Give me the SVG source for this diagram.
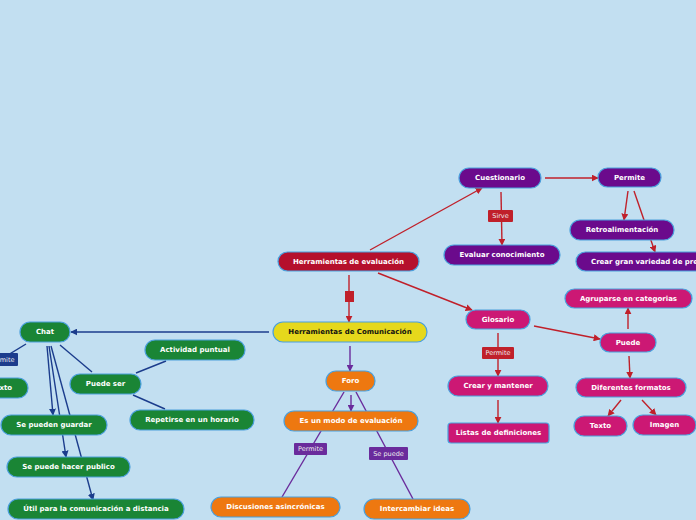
<svg xmlns="http://www.w3.org/2000/svg" width="696" height="520" viewBox="0 0 696 520">
<defs>
<style>
.n rect{stroke:#4a9fdc;stroke-width:1.2}
.n text{font-family:"DejaVu Sans",Verdana,sans-serif;font-weight:bold;font-size:7px;fill:#fff;text-anchor:middle;dominant-baseline:central}
.red rect{fill:#b5102c}.yel rect{fill:#e6d81c}.yel text{fill:#111}
.grn rect{fill:#1a8535}.pur rect{fill:#6b0a8c}.mag rect{fill:#cc1874}.org rect{fill:#ee7810}
.l text{font-family:"DejaVu Sans",Verdana,sans-serif;font-size:6.5px;fill:#eee;text-anchor:middle;dominant-baseline:central}
.cr{stroke:#c0202a;stroke-width:1.4;fill:none}
.cb{stroke:#1b3c8c;stroke-width:1.4;fill:none}
.cp{stroke:#6a2b9c;stroke-width:1.4;fill:none}
</style>
<marker id="ar" viewBox="0 0 10 10" refX="9" refY="5" markerWidth="7" markerHeight="7" orient="auto" markerUnits="userSpaceOnUse"><path d="M0,0L10,5L0,10z" fill="#c0202a"/></marker>
<marker id="ab" viewBox="0 0 10 10" refX="9" refY="5" markerWidth="7" markerHeight="7" orient="auto" markerUnits="userSpaceOnUse"><path d="M0,0L10,5L0,10z" fill="#1b3c8c"/></marker>
<marker id="ap" viewBox="0 0 10 10" refX="9" refY="5" markerWidth="7" markerHeight="7" orient="auto" markerUnits="userSpaceOnUse"><path d="M0,0L10,5L0,10z" fill="#6a2b9c"/></marker>
</defs>
<rect width="696" height="520" fill="#c2dff1"/>
<g id="connectors">
<path class="cr" d="M370,250L482,188" marker-end="url(#ar)"/>
<path class="cr" d="M378,273L472,310" marker-end="url(#ar)"/>
<path class="cr" d="M349,275L349,322" marker-end="url(#ar)"/>
<rect x="345" y="291" width="9" height="11" fill="#c0202a"/>
<path class="cr" d="M545,178L598,178" marker-end="url(#ar)"/>
<path class="cr" d="M501,192L502,245" marker-end="url(#ar)"/>
<path class="cr" d="M628,191L624,220" marker-end="url(#ar)"/>
<path class="cr" d="M634,191L655,252" marker-end="url(#ar)"/>
<path class="cr" d="M498,333L498,376" marker-end="url(#ar)"/>
<path class="cr" d="M498,400L498,423" marker-end="url(#ar)"/>
<path class="cr" d="M534,326L600,339" marker-end="url(#ar)"/>
<path class="cr" d="M628,329L628,308" marker-end="url(#ar)"/>
<path class="cr" d="M629,356L630,378" marker-end="url(#ar)"/>
<path class="cr" d="M621,400L608,416" marker-end="url(#ar)"/>
<path class="cr" d="M642,400L656,415" marker-end="url(#ar)"/>
<path class="cb" d="M269,332L71,332" marker-end="url(#ab)"/>
<path class="cb" d="M26,344L-10,366"/>
<path class="cb" d="M60,345L92,372"/>
<path class="cb" d="M136,373L166,361"/>
<path class="cb" d="M133,395L165,409"/>
<path class="cb" d="M47,346L53,415" marker-end="url(#ab)"/>
<path class="cb" d="M49,346L66,457" marker-end="url(#ab)"/>
<path class="cb" d="M51,346L93,500" marker-end="url(#ab)"/>
<path class="cp" d="M350,346L350,371" marker-end="url(#ap)"/>
<path class="cp" d="M351,395L351,411" marker-end="url(#ap)"/>
<path class="cp" d="M344,392L282,497"/>
<path class="cp" d="M356,392L413,499"/>
</g>
<g id="lbl-sirve" class="l"><rect x="488" y="210" width="25" height="12" rx="1" fill="#c0202a"/><text x="500.5" y="216">Sirve</text></g>
<g id="lbl-permite-g" class="l"><rect x="482" y="347" width="32" height="12" rx="1" fill="#c0202a"/><text x="498" y="353">Permite</text></g>
<g id="lbl-permite-f" class="l"><rect x="294" y="443" width="33" height="12" rx="1" fill="#6a2b9c"/><text x="310.5" y="449">Permite</text></g>
<g id="lbl-sepuede" class="l"><rect x="369" y="447" width="39" height="13" rx="1" fill="#6a2b9c"/><text x="388.5" y="453.5">Se puede</text></g>
<g id="lbl-permite-c" class="l"><rect x="-14" y="353" width="32" height="13" rx="1" fill="#1b3c8c"/><text x="2" y="359.5">Permite</text></g>
<g id="herr-eval" class="n red"><rect x="278" y="252" width="141" height="19" rx="9.5"/><text x="348.5" y="261.5">Herramientas de evaluación</text></g>
<g id="herr-com" class="n yel"><rect x="273" y="322" width="154" height="20" rx="10"/><text x="350" y="332">Herramientas de Comunicación</text></g>
<g id="cuestionario" class="n pur"><rect x="459" y="168" width="82" height="20" rx="10"/><text x="500" y="178">Cuestionario</text></g>
<g id="permite" class="n pur"><rect x="598" y="168" width="63" height="19" rx="9.5"/><text x="629.5" y="177.5">Permite</text></g>
<g id="retro" class="n pur"><rect x="570" y="220" width="104" height="20" rx="10"/><text x="622" y="230">Retroalimentación</text></g>
<g id="crear-gran" class="n pur"><rect x="576" y="252" width="140" height="19" rx="9.5"/><text x="591" y="261.5" style="text-anchor:start">Crear gran variedad de preguntas</text></g>
<g id="evaluar" class="n pur"><rect x="444" y="245" width="116" height="20" rx="10"/><text x="502" y="255">Evaluar conocimiento</text></g>
<g id="glosario" class="n mag"><rect x="466" y="310" width="64" height="19" rx="9.5"/><text x="498" y="319.5">Glosario</text></g>
<g id="crear-mant" class="n mag"><rect x="448" y="376" width="100" height="20" rx="10"/><text x="498" y="386">Crear y mantener</text></g>
<g id="listas" class="n mag"><rect x="448" y="423" width="101" height="20" rx="3"/><text x="498.5" y="433">Listas de definiciones</text></g>
<g id="agruparse" class="n mag"><rect x="565" y="289" width="127" height="19" rx="9.5"/><text x="628.5" y="298.5">Agruparse en categorias</text></g>
<g id="puede" class="n mag"><rect x="600" y="333" width="56" height="19" rx="9.5"/><text x="628" y="342.5">Puede</text></g>
<g id="diferentes" class="n mag"><rect x="576" y="378" width="110" height="19" rx="9.5"/><text x="631" y="387.5">Diferentes formatos</text></g>
<g id="texto-m" class="n mag"><rect x="574" y="416" width="53" height="20" rx="10"/><text x="600.5" y="426">Texto</text></g>
<g id="imagen" class="n mag"><rect x="633" y="415" width="63" height="20" rx="10"/><text x="664.5" y="425">Imagen</text></g>
<g id="foro" class="n org"><rect x="326" y="371" width="49" height="20" rx="10"/><text x="350.5" y="381">Foro</text></g>
<g id="modo-eval" class="n org"><rect x="284" y="411" width="134" height="20" rx="10"/><text x="351" y="421">Es un modo de evaluación</text></g>
<g id="discusiones" class="n org"><rect x="211" y="497" width="129" height="20" rx="10"/><text x="275.5" y="507">Discusiones asincrónicas</text></g>
<g id="intercambiar" class="n org"><rect x="364" y="499" width="106" height="20" rx="10"/><text x="417" y="509">Intercambiar ideas</text></g>
<g id="chat" class="n grn"><rect x="20" y="322" width="50" height="20" rx="10"/><text x="45" y="332">Chat</text></g>
<g id="texto-g" class="n grn"><rect x="-30" y="378" width="58" height="20" rx="10"/><text x="1.5" y="388">Texto</text></g>
<g id="puede-ser" class="n grn"><rect x="70" y="374" width="71" height="20" rx="10"/><text x="105.5" y="384">Puede ser</text></g>
<g id="actividad" class="n grn"><rect x="145" y="340" width="100" height="20" rx="10"/><text x="195" y="350">Actividad puntual</text></g>
<g id="repetirse" class="n grn"><rect x="130" y="410" width="124" height="20" rx="10"/><text x="192" y="420">Repetirse en un horario</text></g>
<g id="guardar" class="n grn"><rect x="1" y="415" width="106" height="20" rx="10"/><text x="54" y="425">Se pueden guardar</text></g>
<g id="publico" class="n grn"><rect x="7" y="457" width="123" height="20" rx="10"/><text x="68.5" y="467">Se puede hacer publico</text></g>
<g id="util" class="n grn"><rect x="8" y="499" width="176" height="20" rx="10"/><text x="96" y="509">Útil para la comunicación a distancia</text></g>
</svg>
